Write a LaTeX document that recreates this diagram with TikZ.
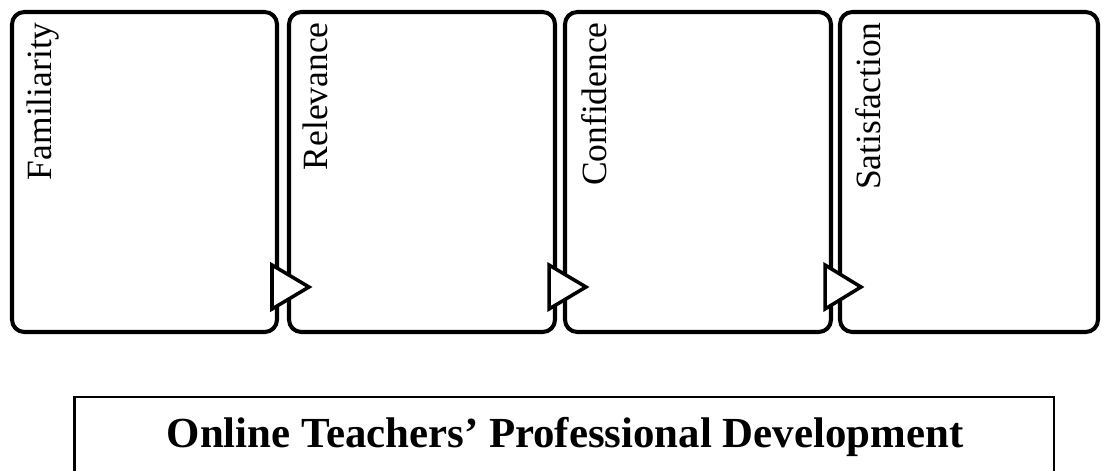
\documentclass[tikz,border=0pt]{standalone}
\usepackage{fontspec}
\setmainfont{Liberation Serif}
\tikzset{
	stage/.style={draw, line width=2.3pt, rounded corners=7pt},
	stagelabel/.style={rotate=90, anchor=north east, inner sep=0pt, font=\fontsize{20.2}{24}\selectfont},
	pointer/.style={draw, fill=white, line width=2pt, line join=miter}
}
\begin{document}
\begin{tikzpicture}[x=0.02cm, y=-0.02cm]
	%\draw[help lines, step=50] (0,0) grid (1102,470);
	\useasboundingbox (0,0) rectangle (1102,470);

	% the four stages
	\draw [stage] (12, 12) rectangle (277, 332);
	\draw [stage] (289, 12) rectangle (555, 332);
	\draw [stage] (565, 12) rectangle (831, 332);
	\draw [stage] (840, 12) rectangle (1098, 332);

	\node [stagelabel] (familiarity) at (27, 22) {Familiarity};
	\node [stagelabel] (relevance) at (303, 22) {Relevance};
	\node [stagelabel] (confidence) at (581, 22) {Confidence};
	\node [stagelabel] (satisfaction) at (855, 22) {Satisfaction};

	% pointers between the stages
	\draw [pointer] (272, 265) -- (309, 287) -- (272, 309) -- cycle;
	\draw [pointer] (549, 265) -- (586, 287) -- (549, 309) -- cycle;
	\draw [pointer] (825, 265) -- (861, 287) -- (825, 309) -- cycle;

	% base
	\draw [line width=1.4pt] (74.5, 397) -- (74.5, 520) -- (1054, 520) -- (1054, 397) -- cycle;
	\node [anchor=base, font=\bfseries\fontsize{24.4}{29}\selectfont] (otpd) at (565, 447) {Online Teachers’ Professional Development};
\end{tikzpicture}
\end{document}
